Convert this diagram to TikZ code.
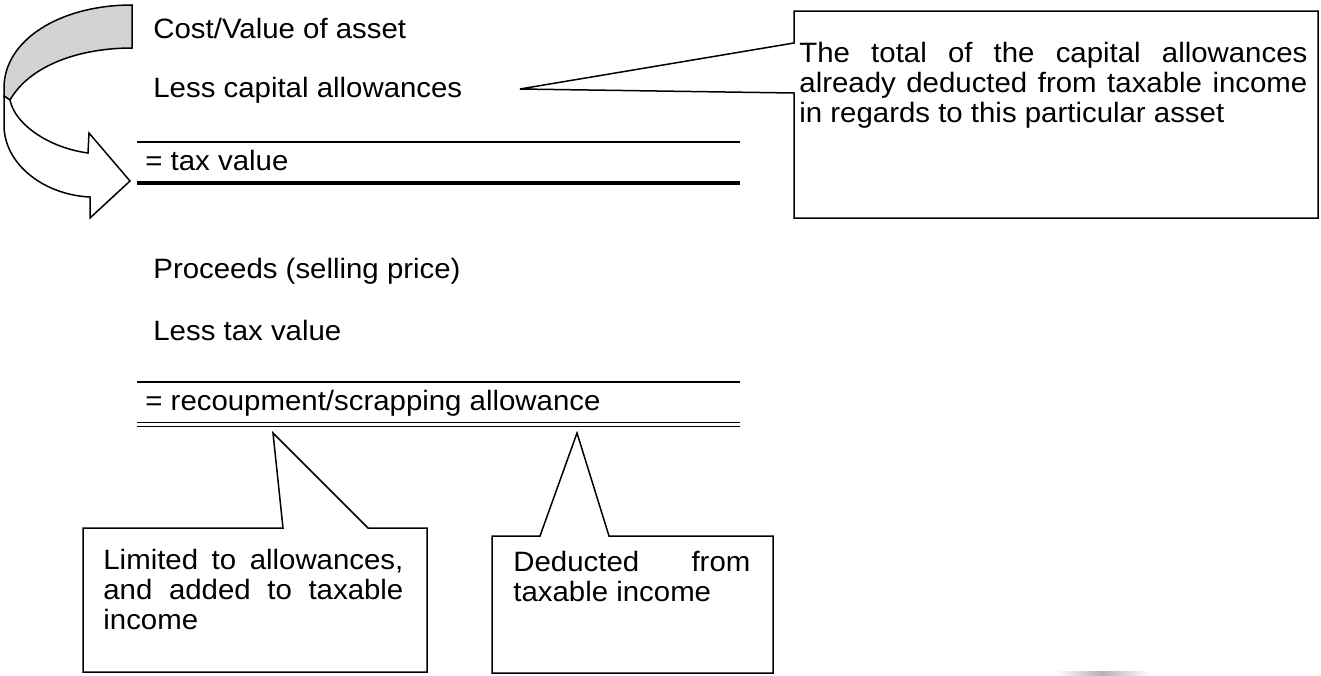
\documentclass[tikz,border=0pt]{standalone}
\usepackage{fontspec}
\setmainfont{Liberation Sans}[FakeStretch=1.05]
\usetikzlibrary{positioning}
\definecolor{ribbon}{RGB}{211,211,211}
\newcommand\nohyph{\tolerance=10000 \hyphenpenalty=10000 \exhyphenpenalty=10000 }

\begin{document}
\begin{tikzpicture}[
    x=0.5pt, y=-0.5pt,
    every node/.style={font={\fontsize{14pt}{15pt}\selectfont}},
    entry/.style={anchor=base west, inner sep=0pt},
    notetext/.style={anchor=north west, inner sep=0pt, align=justify,
      font={\fontsize{14pt}{15pt}\selectfont\nohyph}},
    boxarea/.style={anchor=north west, inner sep=0pt, outer sep=0pt},
    balloon/.style={draw, line width=0.75pt, line join=miter},
    ribbonedge/.style={draw, line width=0.75pt, line join=miter},
    sumline/.style={line width=1pt},
    totalline/.style={line width=2pt}
  ]
  \useasboundingbox (0,0) rectangle (1321,675);

  % curved arrow
  \filldraw[ribbonedge, fill=ribbon] (132,5) .. controls (60,5) and (4,40) .. (4,88)
    -- (4,96) -- (10,100) .. controls (30,65) and (80,48) .. (132,48) -- cycle;
  \filldraw[ribbonedge, fill=white] (10,100) .. controls (15,125) and (50,148) .. (88,153)
    -- (89,133) -- (130,181) -- (90,218) -- (90,197)
    .. controls (45,195) and (4,165) .. (4,125) -- (4,96) -- cycle;

  % first calculation
  \node[entry] (cost) at (153,38) {Cost/Value of asset};
  \node[entry] (lesscap) at (153,97) {Less capital allowances};
  \draw[sumline] (137,142) -- (740,142);
  \node[entry] (taxval) at (145,170) {= tax value};
  \draw[totalline] (137,183) -- (740,183);

  % second calculation
  \node[entry] (proceeds) at (153,278) {Proceeds (selling price)};
  \node[entry] (lesstax) at (153,340) {Less tax value};
  \draw[sumline] (137,382) -- (740,382);
  \node[entry] (recoup) at (145,410) {= recoupment/scrapping allowance};
  \draw[line width=0.8pt] (137,422.5) -- (740,422.5);
  \draw[line width=0.8pt] (137,426.5) -- (740,426.5);

  % callout: capital allowances
  \node[boxarea, minimum width=262pt, minimum height=103.5pt] (totalbox) at (794,11) {};
  \coordinate (totaltip) at (520,89);
  \draw[balloon] (totalbox.north west) -- (totalbox.north east) -- (totalbox.south east)
    -- (totalbox.south west) -- (794,93) -- (totaltip) -- (794,43) -- cycle;
  \node[notetext, text width=254pt] (totaltext) at (799,42)
    {The total of the capital allowances already deducted from taxable income in regards to this particular asset};

  % callout: recoupment
  \node[boxarea, minimum width=172pt, minimum height=72pt] (limbox) at (83,528) {};
  \coordinate (limtip) at (273,433);
  \draw[balloon] (limbox.north west) -- (283,528) -- (limtip) -- (368,528)
    -- (limbox.north east) -- (limbox.south east) -- (limbox.south west) -- cycle;
  \node[notetext, text width=150pt] (limtext) at (103,549)
    {Limited to allowances, and added to taxable income};

  % callout: scrapping allowance
  \node[boxarea, minimum width=140.5pt, minimum height=68.5pt] (dedbox) at (492,536) {};
  \coordinate (dedtip) at (577,433);
  \draw[balloon] (dedbox.north west) -- (540,536) -- (dedtip) -- (609,536)
    -- (dedbox.north east) -- (dedbox.south east) -- (dedbox.south west) -- cycle;
  \node[notetext, text width=118.5pt] (dedtext) at (513,551)
    {Deducted from taxable income};

  \shade[left color=white, right color=white, middle color=gray!60] (1055,671) rectangle (1150,675);
\end{tikzpicture}
\end{document}
